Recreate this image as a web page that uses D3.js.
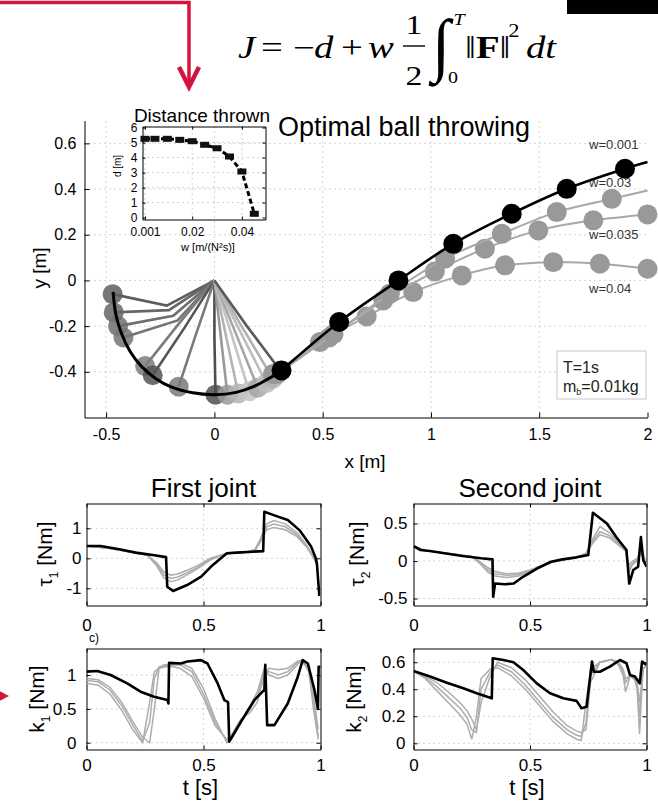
<!DOCTYPE html>
<html>
<head>
<meta charset="utf-8">
<script src="https://cdn.jsdelivr.net/npm/d3@7"></script>
<style>
  body { margin: 0; background: #fff; }
  svg { display: block; font-family: "Liberation Sans", Arial, sans-serif; }
</style>
</head>
<body>
<script>
// ---------- data ----------

// hand path of the w=0.001 throw, before release
const handPathX = [-0.468, -0.455, -0.43, -0.39, -0.338, -0.27, -0.2, -0.1, 0, 0.1, 0.18, 0.25, 0.31];
const handPathY = [-0.05, -0.15, -0.23, -0.31, -0.375, -0.43, -0.466, -0.492, -0.5, -0.49, -0.465, -0.43, -0.394];

// arm snapshots: shoulder at (0,0) -> elbow -> hand
const armHandX  = [-0.47, -0.465, -0.445, -0.42, -0.32, -0.285, -0.165, 0.005, 0.06, 0.11, 0.16, 0.2, 0.24, 0.27, 0.305];
const armHandY  = [-0.06, -0.14, -0.2, -0.25, -0.375, -0.415, -0.465, -0.5, -0.5, -0.495, -0.485, -0.47, -0.45, -0.43, -0.395];
const armElbowX = [-0.22, -0.21, -0.19, -0.17, -0.165, -0.14, -0.085, 0.0, 0.03, 0.055, 0.08, 0.1, 0.12, 0.135, 0.15];
const armElbowY = [-0.11, -0.13, -0.155, -0.175, -0.19, -0.21, -0.235, -0.25, -0.25, -0.25, -0.24, -0.235, -0.225, -0.215, -0.2];
const armShade  = ["#5e5e5e", "#666", "#6e6e6e", "#747474", "#7c7c7c", "#555", "#7a7a7a", "#4e4e4e",
                   "#999", "#b4b4b4", "#c4c4c4", "#a6a6a6", "#bdbdbd", "#b0b0b0", "#5a5a5a"];

// ball flight, one pair of arrays per w
const flightLabels = ["w=0.001", "w=0.03", "w=0.035", "w=0.04"];
const ballX001 = [0.31, 0.576, 0.85, 1.103, 1.373, 1.627, 1.896];
const ballY001 = [-0.394, -0.182, 0.0, 0.16, 0.292, 0.401, 0.489];
const ballX030 = [0.30, 0.55, 0.81, 1.065, 1.327, 1.581, 1.835];
const ballY030 = [-0.40, -0.235, -0.058, 0.095, 0.204, 0.299, 0.357];
const ballX035 = [0.29, 0.53, 0.78, 1.018, 1.249, 1.496, 1.75, 2.0];
const ballY035 = [-0.41, -0.25, -0.088, 0.039, 0.139, 0.219, 0.263, 0.289];
const ballX040 = [0.27, 0.487, 0.703, 0.918, 1.142, 1.342, 1.565, 1.78, 2.0];
const ballY040 = [-0.41, -0.27, -0.158, -0.051, 0.022, 0.066, 0.08, 0.073, 0.051];
const flightEndY = [0.518, 0.394, 0.289, 0.051];   // where each path leaves the axes at x = 2

// inset: distance thrown
const insetW = [0.001, 0.005, 0.01, 0.015, 0.02, 0.025, 0.03, 0.035, 0.04, 0.045];
const insetD = [5.25, 5.25, 5.25, 5.18, 5.09, 4.85, 4.62, 4.07, 3.07, 0.25];

// joint torque tau1
const tau1T     = [0, 0.06, 0.14, 0.21, 0.29, 0.34, 0.345, 0.37, 0.43, 0.49, 0.54, 0.6, 0.64, 0.71, 0.755, 0.76, 0.8, 0.86, 0.91, 0.96, 0.98, 0.985, 0.995];
const tau1Black = [0.41, 0.41, 0.30, 0.19, 0.10, 0.04, -0.95, -1.09, -0.89, -0.61, -0.22, 0.17, 0.19, 0.22, 0.24, 1.55, 1.44, 1.28, 0.94, 0.39, 0.0, -0.2, -1.25];
const tau1GT    = [0, 0.1, 0.2, 0.26, 0.3, 0.33, 0.36, 0.39, 0.43, 0.48, 0.53, 0.58, 0.62, 0.68, 0.72, 0.74, 0.77, 0.8, 0.85, 0.9, 0.94, 0.97, 0.985];
const tau1G1 = [0.41, 0.33, 0.19, 0.1, -0.25, -0.65, -0.78, -0.72, -0.55, -0.32, -0.05, 0.12, 0.17, 0.2, 0.3, 0.6, 1.15, 1.26, 1.15, 0.85, 0.45, 0.05, -0.2];
const tau1G2 = [0.41, 0.33, 0.19, 0.1, -0.2, -0.55, -0.67, -0.62, -0.48, -0.28, -0.03, 0.12, 0.17, 0.2, 0.28, 0.55, 1.05, 1.14, 1.05, 0.78, 0.4, 0.03, -0.2];
const tau1G3 = [0.41, 0.33, 0.19, 0.1, -0.15, -0.45, -0.56, -0.52, -0.4, -0.22, 0.0, 0.12, 0.17, 0.2, 0.26, 0.5, 0.95, 1.03, 0.95, 0.72, 0.38, 0.02, -0.2];

// joint torque tau2
const tau2T     = [0, 0.03, 0.07, 0.14, 0.21, 0.29, 0.339, 0.342, 0.35, 0.39, 0.43, 0.47, 0.53, 0.59, 0.64, 0.7, 0.75, 0.77, 0.83, 0.87, 0.914, 0.926, 0.943, 0.964, 0.976, 0.986, 1.0];
const tau2Black = [0.2, 0.147, 0.133, 0.1, 0.067, 0.036, 0.022, -0.476, -0.3, -0.31, -0.3, -0.21, -0.1, -0.01, 0.022, 0.049, 0.08, 0.644, 0.5, 0.32, 0.147, -0.3, -0.12, -0.076, 0.32, 0.013, -0.076];
const tau2GT    = [0, 0.05, 0.15, 0.25, 0.29, 0.32, 0.35, 0.4, 0.45, 0.5, 0.55, 0.6, 0.7, 0.74, 0.77, 0.8, 0.84, 0.88, 0.91, 0.925, 0.94, 0.96, 0.975, 0.99, 1.0];
const tau2G1 = [0.2, 0.14, 0.1, 0.06, -0.05, -0.15, -0.2, -0.22, -0.2, -0.14, -0.07, -0.01, 0.05, 0.1, 0.3, 0.46, 0.38, 0.25, 0.15, -0.15, -0.05, 0.0, 0.2, 0.05, -0.05];
const tau2G2 = [0.2, 0.14, 0.1, 0.06, -0.03, -0.12, -0.17, -0.19, -0.18, -0.13, -0.07, -0.01, 0.05, 0.1, 0.27, 0.39, 0.34, 0.23, 0.14, -0.1, -0.03, 0.02, 0.15, 0.04, -0.05];
const tau2G3 = [0.2, 0.14, 0.1, 0.06, -0.02, -0.09, -0.14, -0.17, -0.16, -0.12, -0.06, -0.01, 0.05, 0.1, 0.24, 0.35, 0.31, 0.21, 0.13, -0.05, 0.0, 0.03, 0.1, 0.03, -0.05];

// stiffness k1
const k1T     = [0, 0.046, 0.103, 0.174, 0.231, 0.289, 0.346, 0.35, 0.353, 0.403, 0.431, 0.489, 0.517, 0.56, 0.589, 0.605, 0.61, 0.66, 0.717, 0.76, 0.764, 0.772, 0.803, 0.86, 0.903, 0.924, 0.946, 0.974, 0.989, 0.992, 1.0];
const k1Black = [1.05, 1.06, 1.0, 0.877, 0.754, 0.68, 0.63, 0.58, 1.18, 1.17, 1.2, 1.22, 1.17, 0.88, 0.63, 0.6, 0.015, 0.31, 0.63, 0.78, 1.15, 0.26, 0.26, 0.58, 0.975, 1.22, 1.17, 0.78, 0.5, 1.12, 1.12];
const k1GT    = [0, 0.05, 0.1, 0.15, 0.2, 0.24, 0.27, 0.29, 0.31, 0.33, 0.36, 0.4, 0.45, 0.5, 0.55, 0.6, 0.62, 0.66, 0.7, 0.73, 0.76, 0.78, 0.82, 0.86, 0.9, 0.92, 0.95, 0.97, 0.99];
const k1G1 = [0.95, 0.93, 0.82, 0.6, 0.3, 0.08, 0.0, 0.5, 1.1, 1.15, 1.16, 1.18, 1.1, 0.8, 0.35, 0.0, 0.05, 0.3, 0.55, 0.75, 1.1, 1.0, 0.95, 1.0, 1.15, 1.22, 1.1, 0.7, 0.2];
const k1G2 = [0.92, 0.9, 0.78, 0.55, 0.25, 0.02, 0.3, 0.95, 1.12, 1.14, 1.15, 1.15, 1.05, 0.72, 0.3, 0.02, 0.08, 0.32, 0.5, 0.68, 1.05, 1.05, 1.0, 1.05, 1.18, 1.22, 1.1, 0.6, 0.1];
const k1G3 = [0.88, 0.85, 0.72, 0.48, 0.18, 0.0, 0.6, 1.05, 1.1, 1.12, 1.13, 1.1, 0.98, 0.66, 0.25, 0.05, 0.12, 0.35, 0.45, 0.6, 1.0, 1.1, 1.08, 1.1, 1.2, 1.22, 1.05, 0.5, 0.05];

// stiffness k2
const k2T     = [0, 0.071, 0.143, 0.214, 0.271, 0.336, 0.34, 0.386, 0.429, 0.471, 0.529, 0.586, 0.643, 0.7, 0.721, 0.743, 0.766, 0.774, 0.8, 0.843, 0.886, 0.914, 0.929, 0.95, 0.971, 0.981, 1.0];
const k2Black = [0.536, 0.494, 0.449, 0.407, 0.37, 0.333, 0.63, 0.617, 0.6, 0.543, 0.444, 0.37, 0.333, 0.314, 0.26, 0.27, 0.605, 0.53, 0.53, 0.568, 0.617, 0.593, 0.506, 0.494, 0.444, 0.605, 0.58];
const k2GT    = [0, 0.05, 0.1, 0.15, 0.2, 0.23, 0.25, 0.27, 0.29, 0.33, 0.36, 0.42, 0.48, 0.54, 0.6, 0.66, 0.7, 0.72, 0.74, 0.76, 0.8, 0.85, 0.88, 0.9, 0.91, 0.93, 0.95, 0.96, 0.97, 0.985, 1.0];
const k2G1 = [0.536, 0.48, 0.39, 0.3, 0.21, 0.14, 0.03, 0.2, 0.48, 0.55, 0.56, 0.5, 0.4, 0.28, 0.16, 0.07, 0.03, 0.02, 0.3, 0.55, 0.6, 0.62, 0.58, 0.5, 0.38, 0.5, 0.47, 0.4, 0.07, 0.55, 0.58];
const k2G2 = [0.536, 0.49, 0.42, 0.34, 0.26, 0.19, 0.1, 0.08, 0.4, 0.53, 0.58, 0.53, 0.43, 0.31, 0.19, 0.1, 0.06, 0.05, 0.15, 0.5, 0.6, 0.62, 0.6, 0.52, 0.45, 0.5, 0.47, 0.42, 0.2, 0.55, 0.58];
const k2G3 = [0.536, 0.5, 0.45, 0.38, 0.3, 0.24, 0.18, 0.1, 0.3, 0.5, 0.6, 0.56, 0.47, 0.35, 0.23, 0.13, 0.09, 0.08, 0.1, 0.45, 0.6, 0.62, 0.6, 0.55, 0.48, 0.5, 0.48, 0.45, 0.3, 0.55, 0.58];

// ---------- drawing ----------
const svg = d3.select("body").append("svg").attr("width", 658).attr("height", 801);
const red = "#d3143c";
const fmt = d => String(d);

function drawAxes(g, sx, sy, c) {
  const [x0, x1] = sx.range(), [y0, y1] = sy.range();
  const grid = g.append("g").attr("stroke", "#a9a9a9").attr("stroke-dasharray", "1,4");
  grid.selectAll(".gx").data(c.xTicks.filter(d => Math.abs(sx(d) - x0) > 2 && Math.abs(sx(d) - x1) > 2))
    .join("line").attr("class", "gx")
    .attr("x1", d => sx(d)).attr("x2", d => sx(d)).attr("y1", y0).attr("y2", y1);
  grid.selectAll(".gy").data(c.yTicks.filter(d => Math.abs(sy(d) - y0) > 2 && Math.abs(sy(d) - y1) > 2))
    .join("line").attr("class", "gy")
    .attr("y1", d => sy(d)).attr("y2", d => sy(d)).attr("x1", x0).attr("x2", x1);

  const style = s => s.attr("font-size", c.fs).attr("font-family", null);
  g.append("g").attr("transform", `translate(0,${y0})`)
    .call(d3.axisBottom(sx).tickValues(c.xTicks).tickFormat(fmt).tickSizeInner(-c.tick).tickSizeOuter(0).tickPadding(c.padX))
    .call(style);
  g.append("g").attr("transform", `translate(${x0},0)`)
    .call(d3.axisLeft(sy).tickValues(c.yTicks).tickFormat(fmt).tickSizeInner(-c.tick).tickSizeOuter(0).tickPadding(c.padY))
    .call(style);
  if (c.box) {
    g.append("g").attr("transform", `translate(0,${y1})`)
      .call(d3.axisTop(sx).tickValues(c.xTicks).tickFormat("").tickSizeInner(-c.tick).tickSizeOuter(0));
    g.append("g").attr("transform", `translate(${x1},0)`)
      .call(d3.axisRight(sy).tickValues(c.yTicks).tickFormat("").tickSizeInner(-c.tick).tickSizeOuter(0));
  }
}

// red callout + black block
svg.append("path").attr("d", "M0,2.5 H189 V84").attr("fill", "none").attr("stroke", red).attr("stroke-width", 3.5);
svg.append("path").attr("d", "M179,67 L189,87 L199,67").attr("fill", "none").attr("stroke", red).attr("stroke-width", 4.5);
svg.append("path").attr("d", "M-4,689 L9,696 L-4,703 Z").attr("fill", red);
svg.append("rect").attr("x", 567).attr("y", 0).attr("width", 91).attr("height", 14).attr("fill", "#000");

// cost function, glyphs stretched a little sideways like the scanned original
const eq = svg.append("g").attr("font-family", "'Liberation Serif','Times New Roman',serif");
const eqParts = [
  // text, x, baseline, size, italic, anchor
  ["J", 238, 58, 31, true, "start"], ["=", 261, 58, 31, false, "start"], ["\u2212", 293, 58, 31, false, "start"],
  ["d", 314, 58, 31, true, "start"], ["+", 341, 58, 31, false, "start"], ["w", 368, 58, 31, true, "start"],
  ["1", 414, 34, 27, false, "middle"], ["2", 414, 85, 27, false, "middle"],
  ["T", 459, 25, 16, true, "middle"], ["0", 453, 83, 16, false, "middle"],
  ["2", 514, 37, 18, false, "middle"], ["dt", 526, 58, 31, true, "start"]
];
eq.selectAll("text.p").data(eqParts).join("text").attr("class", "p")
  .attr("transform", d => `translate(${d[1]},${d[2]}) scale(1.25,1)`)
  .attr("font-size", d => d[3]).attr("font-style", d => d[4] ? "italic" : null)
  .attr("text-anchor", d => d[5]).text(d => d[0]);
eq.append("line").attr("x1", 403).attr("x2", 425).attr("y1", 46).attr("y2", 46).attr("stroke", "#000").attr("stroke-width", 1.4);
eq.append("text").attr("transform", "translate(432,68) scale(0.95,1)").attr("font-size", 70).text("\u222B");
const normT = eq.append("text").attr("transform", "translate(465,58) scale(1.25,1)").attr("font-size", 31);
normT.append("tspan").text("\u2016");
normT.append("tspan").attr("font-weight", "bold").text("F");
normT.append("tspan").text("\u2016");

// ---------- main panel ----------
const mx = d3.scaleLinear().domain([-0.6, 2]).range([84.5, 647.5]);
const my = d3.scaleLinear().domain([-0.6, 0.7]).range([417.5, 120.5]);
const main = svg.append("g");
drawAxes(main, mx, my, {xTicks: [-0.5, 0, 0.5, 1, 1.5, 2], yTicks: [-0.4, -0.2, 0, 0.2, 0.4, 0.6],
  fs: 16, tick: 5, padX: 11, padY: 8, box: false});

main.append("text").attr("x", 404).attr("y", 136).attr("text-anchor", "middle").attr("font-size", 27).text("Optimal ball throwing");
main.append("text").attr("x", 365).attr("y", 468).attr("text-anchor", "middle").attr("font-size", 19).text("x [m]");
main.append("text").attr("transform", "translate(46,268) rotate(-90)").attr("text-anchor", "middle").attr("font-size", 19).text("y [m]");

const pts = (xs, ys) => d3.zip(xs, ys);
const lineXY = d3.line().x(d => mx(d[0])).y(d => my(d[1]));

// arm snapshots
const arms = d3.range(armHandX.length).map(i => ({
  path: [[0, 0], [armElbowX[i], armElbowY[i]], [armHandX[i], armHandY[i]]], color: armShade[i]}));
const armG = main.append("g");
armG.selectAll("path").data(arms).join("path")
  .attr("d", d => lineXY(d.path)).attr("fill", "none").attr("stroke", d => d.color).attr("stroke-width", 2.6);
armG.selectAll("circle").data(arms).join("circle")
  .attr("cx", d => mx(d.path[2][0])).attr("cy", d => my(d.path[2][1])).attr("r", 10)
  .attr("fill", d => d.color).attr("fill-opacity", 0.85);

// ball flights
const flights = [
  {balls: pts(ballX001, ballY001), end: flightEndY[0], color: "#000", ball: "#000", lw: 2.6},
  {balls: pts(ballX030, ballY030), end: flightEndY[1], color: "#a8a8a8", ball: "#999", lw: 2},
  {balls: pts(ballX035, ballY035), end: flightEndY[2], color: "#a8a8a8", ball: "#999", lw: 2},
  {balls: pts(ballX040, ballY040), end: flightEndY[3], color: "#a8a8a8", ball: "#999", lw: 2}
];
const smooth = d3.line().x(d => mx(d[0])).y(d => my(d[1])).curve(d3.curveCatmullRom);
const drawFlight = f => {
  const p = f.balls.slice();
  if (p[p.length - 1][0] < 2) p.push([2, f.end]);
  main.append("path").attr("d", smooth(p)).attr("fill", "none").attr("stroke", f.color).attr("stroke-width", f.lw);
  main.append("g").selectAll("circle").data(f.balls).join("circle")
    .attr("cx", d => mx(d[0])).attr("cy", d => my(d[1])).attr("r", 10).attr("fill", f.ball);
};
flights.slice(1).reverse().forEach(drawFlight);

// hand path + black throw on top
main.append("path").attr("d", smooth(pts(handPathX, handPathY))).attr("fill", "none").attr("stroke", "#000").attr("stroke-width", 3);
drawFlight(flights[0]);

const labelY = [0.575, 0.41, 0.18, -0.057];
main.append("g").selectAll("text").data(flightLabels).join("text")
  .attr("x", mx(1.73)).attr("y", (d, i) => my(labelY[i])).attr("font-size", 13).attr("fill", "#333").text(d => d);

// parameter box
main.append("rect").attr("x", 557).attr("y", 351).attr("width", 89).attr("height", 48).attr("fill", "#fff").attr("stroke", "#c8c8c8");
main.append("text").attr("x", 563).attr("y", 373).attr("font-size", 16).attr("fill", "#222").text("T=1s");
const mb = main.append("text").attr("x", 563).attr("y", 392).attr("font-size", 16).attr("fill", "#222");
mb.append("tspan").text("m");
mb.append("tspan").attr("font-size", 9).attr("dy", 3).text("b");
mb.append("tspan").attr("dy", -3).text("=0.01kg");

// ---------- inset ----------
const ix = d3.scaleLinear().domain([0, 0.0495]).range([142.5, 265.5]);
const iy = d3.scaleLinear().domain([-0.13, 6.07]).range([219.5, 126.5]);
const inset = svg.append("g");
drawAxes(inset, ix, iy, {xTicks: [0.001, 0.02, 0.04], yTicks: [0, 1, 2, 3, 4, 5, 6],
  fs: 12, tick: 3, padX: 8, padY: 5, box: true});
inset.append("path").attr("d", d3.line().x(d => ix(d[0])).y(d => iy(d[1]))(pts(insetW, insetD)))
  .attr("fill", "none").attr("stroke", "#000").attr("stroke-width", 3).attr("stroke-dasharray", "5,3");
inset.append("g").selectAll("rect").data(pts(insetW, insetD)).join("rect")
  .attr("x", d => ix(d[0]) - 4.5).attr("y", d => iy(d[1]) - 3).attr("width", 9).attr("height", 6).attr("fill", "#111");
inset.append("text").attr("x", 202).attr("y", 121.5).attr("text-anchor", "middle").attr("font-size", 19).text("Distance thrown");
inset.append("text").attr("transform", "translate(121,166) rotate(-90)").attr("text-anchor", "middle").attr("font-size", 10).text("d [m]");
inset.append("text").attr("x", 208).attr("y", 251).attr("text-anchor", "middle").attr("font-size", 11).text("w [m/(N\u00B2s)]");

// ---------- joint panels ----------
function panel(c) {
  const sx = d3.scaleLinear().domain([0, 1]).range(c.xr);
  const sy = d3.scaleLinear().domain(c.yd).range(c.yr);
  const g = svg.append("g");
  const id = "clip" + c.id;
  svg.append("clipPath").attr("id", id).append("rect")
    .attr("x", c.xr[0]).attr("y", c.yr[1]).attr("width", c.xr[1] - c.xr[0]).attr("height", c.yr[0] - c.yr[1]);
  drawAxes(g, sx, sy, {xTicks: [0, 0.5, 1], yTicks: c.yTicks, fs: 17, tick: 4, padX: c.padX, padY: c.padY, box: true});
  const ln = d3.line().x(d => sx(d[0])).y(d => sy(d[1]));
  const plot = g.append("g").attr("clip-path", `url(#${id})`);
  plot.selectAll(".gray").data(c.grays).join("path").attr("class", "gray")
    .attr("d", d => ln(pts(c.gt, d))).attr("fill", "none").attr("stroke", "#adadad").attr("stroke-width", 1.5);
  plot.append("path").attr("d", ln(pts(c.t, c.black))).attr("fill", "none").attr("stroke", "#000").attr("stroke-width", 2.6)
    .attr("stroke-linejoin", "round");
  const cx = (c.xr[0] + c.xr[1]) / 2;
  if (c.title) g.append("text").attr("x", cx).attr("y", 497).attr("text-anchor", "middle").attr("font-size", 26).text(c.title);
  if (c.xlabel) g.append("text").attr("x", cx - 3).attr("y", 795).attr("text-anchor", "middle").attr("font-size", 22).text(c.xlabel);
  const yl = g.append("text").attr("transform", `translate(${c.ylx},${c.yly}) rotate(-90)`)
    .attr("text-anchor", "middle").attr("font-size", 21).attr("dy", "0.35em");
  yl.append("tspan").text(c.ysym);
  yl.append("tspan").attr("font-size", 12).attr("dy", 6).text(c.ysub);
  yl.append("tspan").attr("dy", -6).text(" [Nm]");
}

panel({id: 1, xr: [86.5, 320.5], yr: [605.5, 503.5], yd: [-1.573, 1.827], yTicks: [-1, 0, 1], padX: 13, padY: 5,
  t: tau1T, black: tau1Black, gt: tau1GT, grays: [tau1G1, tau1G2, tau1G3],
  title: "First joint", ysym: "\u03C4", ysub: "1", ylx: 45, yly: 554});
panel({id: 2, xr: [413.5, 646.5], yr: [605.5, 503.5], yd: [-0.593, 0.767], yTicks: [-0.5, 0, 0.5], padX: 13, padY: 6,
  t: tau2T, black: tau2Black, gt: tau2GT, grays: [tau2G1, tau2G2, tau2G3],
  title: "Second joint", ysym: "\u03C4", ysub: "2", ylx: 357, yly: 554});
panel({id: 3, xr: [86.5, 320.5], yr: [749.5, 648.5], yd: [-0.1, 1.392], yTicks: [0, 0.5, 1], padX: 9, padY: 10,
  t: k1T, black: k1Black, gt: k1GT, grays: [k1G1, k1G2, k1G3],
  xlabel: "t [s]", ysym: "k", ysub: "1", ylx: 37, yly: 699});
panel({id: 4, xr: [413.5, 646.5], yr: [749.5, 648.5], yd: [-0.046, 0.702], yTicks: [0, 0.2, 0.4, 0.6], padX: 9, padY: 8,
  t: k2T, black: k2Black, gt: k2GT, grays: [k2G1, k2G2, k2G3],
  xlabel: "t [s]", ysym: "k", ysub: "2", ylx: 354, yly: 699});

svg.append("text").attr("x", 89).attr("y", 642).attr("font-size", 12).text("c)");
</script>
</body>
</html>
